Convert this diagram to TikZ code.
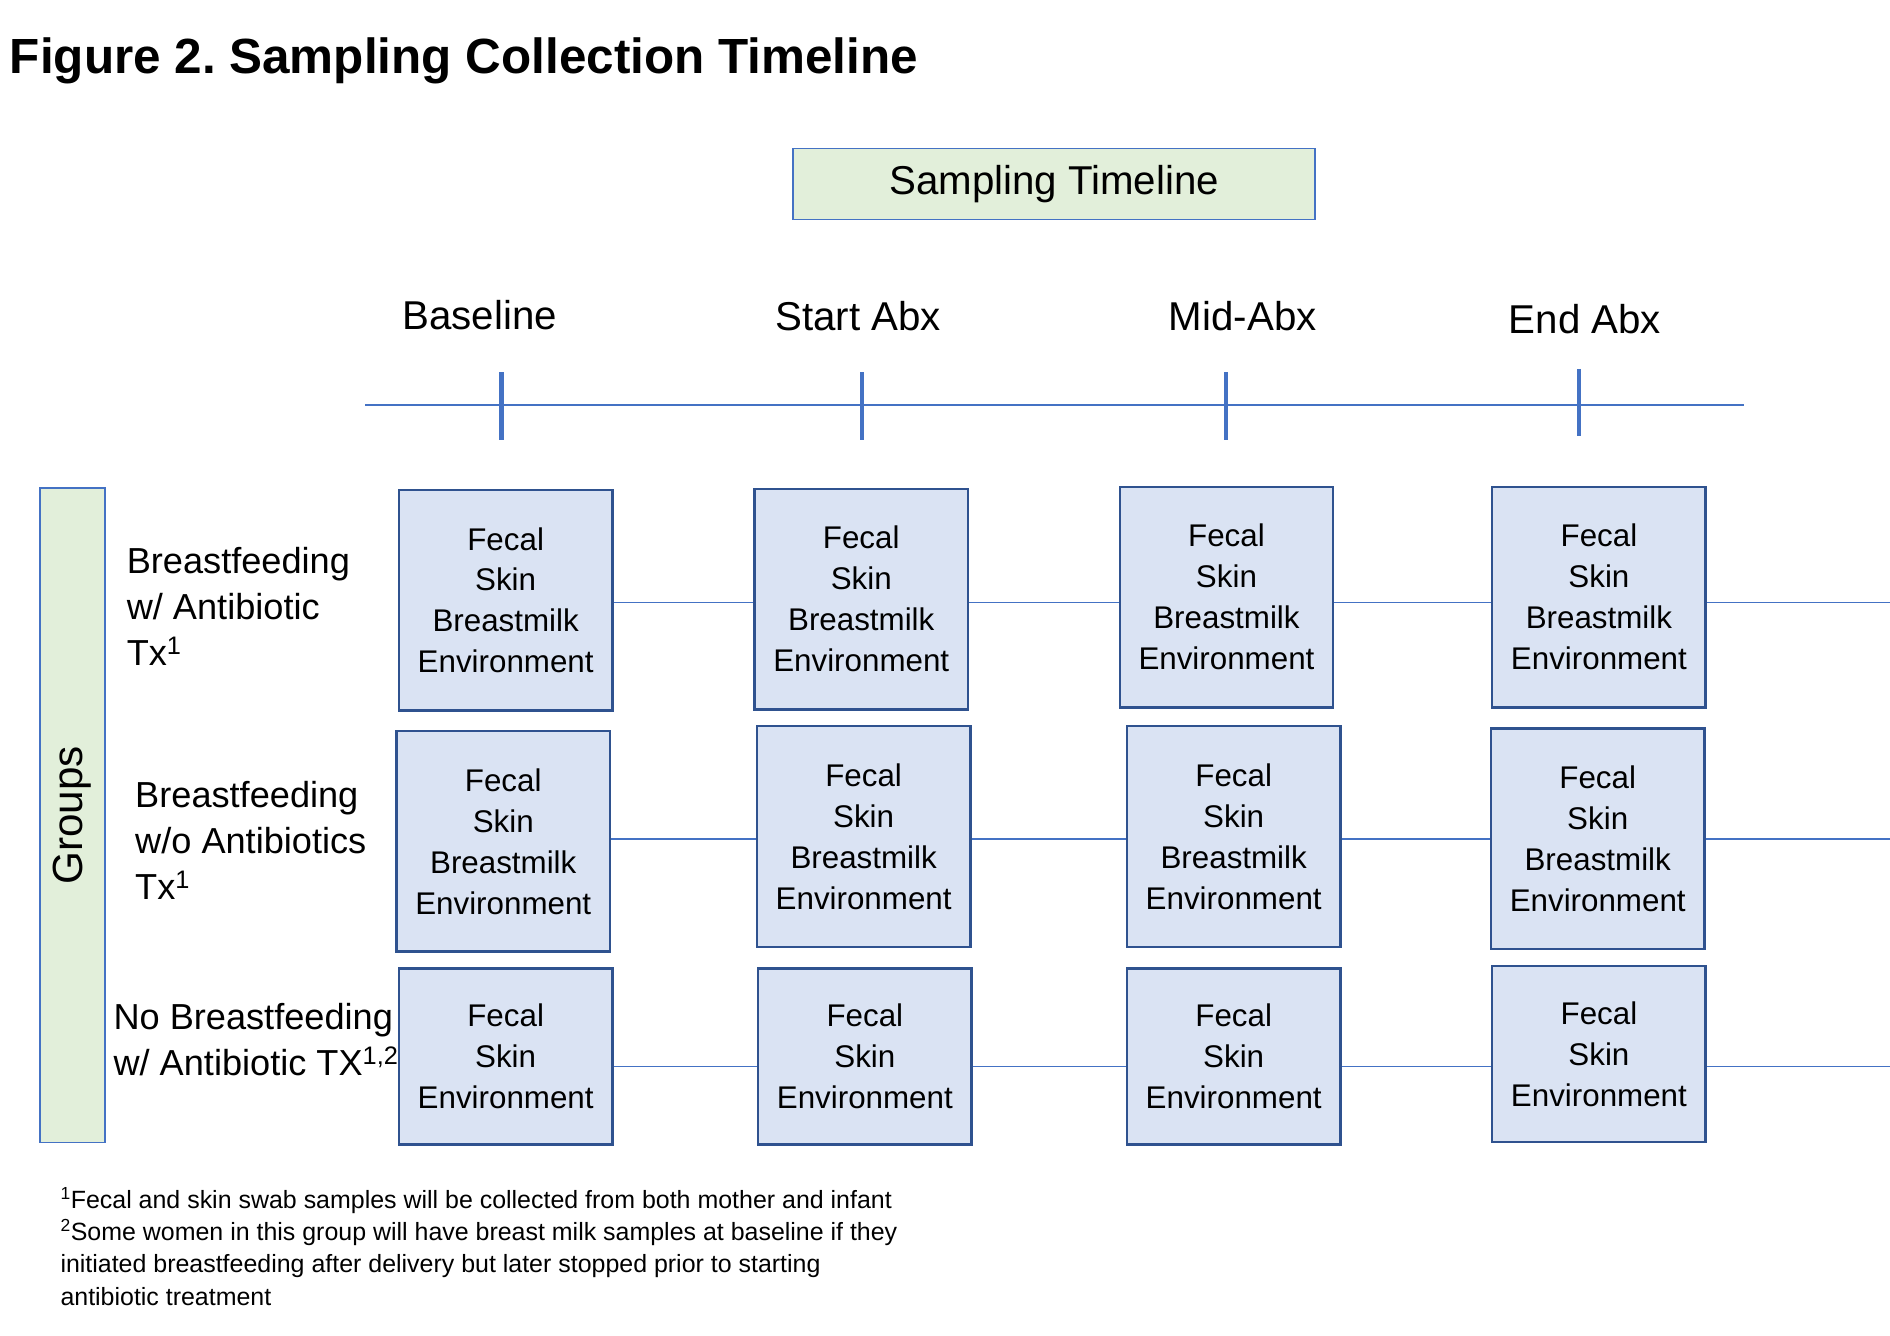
\documentclass[tikz,border=0pt]{standalone}
\usepackage{fontspec}
\setmainfont{Liberation Sans}
\usepackage{xcolor}
\usepackage{tikz}
\usetikzlibrary{positioning}
\frenchspacing

\definecolor{boxfill}{HTML}{DAE3F3}
\definecolor{boxline}{HTML}{2F528F}
\definecolor{linkblue}{HTML}{4472C4}
\definecolor{groupfill}{HTML}{E2EFDA}

\newcommand{\allsamples}{Fecal\\Skin\\Breastmilk\\Environment}
\newcommand{\nomilk}{Fecal\\Skin\\Environment}

\begin{document}
\begin{tikzpicture}[x=1pt, y=-1pt,
		sample/.style={draw=boxline, line width=2pt, fill=boxfill, minimum width=177pt, align=center, inner sep=0pt, font=\fontsize{26}{34}\selectfont},
		tallbox/.style={sample, minimum height=183pt},
		shortbox/.style={sample, minimum height=146pt},
		link/.style={draw=linkblue, line width=1.2pt},
		tickmark/.style={draw=linkblue, line width=3.5pt},
		header/.style={draw=linkblue, line width=1.2pt, fill=groupfill, inner sep=0pt},
		timelabel/.style={anchor=base, inner sep=0pt, font=\fontsize{33.4}{40}\selectfont},
		grouplabel/.style={anchor=north west, align=left, inner sep=0pt, font=\fontsize{30}{38}\selectfont}]
	\useasboundingbox (0,0) rectangle (1568,1108);
	% Title and header:
	\node[anchor=base west, inner sep=0pt, font=\fontsize{41}{48}\selectfont\bfseries] (title) at (8,61) {Figure 2. Sampling Collection Timeline};
	\node[header, minimum width=433pt, minimum height=59pt, font=\fontsize{33.4}{40}\selectfont] (timeline) at (874.5,152.5) {Sampling Timeline};
	% Time points:
	\node[timelabel] (baseline) at (398,273) {Baseline};
	\node[timelabel] (startabx) at (712,274) {Start Abx};
	\node[timelabel] (midabx) at (1031,274) {Mid-Abx};
	\node[timelabel] (endabx) at (1315,277) {End Abx};
	\coordinate (axis start) at (303,336);
	\coordinate (axis end) at (1447,336);
	\draw[link] (axis start) -- (axis end);
	\foreach \x/\top/\bot in {416/309/365, 715/309/365, 1017/309/365, 1310/306/362}
		\draw[tickmark] (\x,\top) -- (\x,\bot);
	% Groups:
	\node[header, rotate=90, minimum width=543pt, minimum height=54pt, font=\fontsize{35}{40}\selectfont] (groups) at (60,676.5) {Groups};
	\node[grouplabel] (grp1) at (105,454) {Breastfeeding\\w/ Antibiotic\\Tx\textsuperscript{1}};
	\node[grouplabel] (grp2) at (112,648) {Breastfeeding\\w/o Antibiotics\\Tx\textsuperscript{1}};
	\node[grouplabel] (grp3) at (94,832) {No Breastfeeding\\w/ Antibiotic TX\textsuperscript{1,2}};
	% Sample boxes:
	\node[tallbox] (bfa1) at (419.5,498) {\allsamples};
	\node[tallbox] (bfa2) at (714.5,497) {\allsamples};
	\node[tallbox] (bfa3) at (1017.5,495.5) {\allsamples};
	\node[tallbox] (bfa4) at (1326.5,495.5) {\allsamples};
	\node[tallbox] (bfn1) at (417.5,698) {\allsamples};
	\node[tallbox] (bfn2) at (716.5,694) {\allsamples};
	\node[tallbox] (bfn3) at (1023.5,694) {\allsamples};
	\node[tallbox] (bfn4) at (1325.5,696) {\allsamples};
	\node[shortbox] (nbf1) at (419.5,876.5) {\nomilk};
	\node[shortbox] (nbf2) at (717.5,876.5) {\nomilk};
	\node[shortbox] (nbf3) at (1023.5,876.5) {\nomilk};
	\node[shortbox] (nbf4) at (1326.5,874.5) {\nomilk};
	% Row lines:
	\coordinate (row1) at (0,500);
	\coordinate (row2) at (0,696);
	\coordinate (row3) at (0,885);
	\coordinate (edge) at (1568,0);
	\draw[link] (bfa1.east |- row1) -- (bfa2.west |- row1) (bfa2.east |- row1) -- (bfa3.west |- row1) (bfa3.east |- row1) -- (bfa4.west |- row1) (bfa4.east |- row1) -- (edge |- row1);
	\draw[link] (bfn1.east |- row2) -- (bfn2.west |- row2) (bfn2.east |- row2) -- (bfn3.west |- row2) (bfn3.east |- row2) -- (bfn4.west |- row2) (bfn4.east |- row2) -- (edge |- row2);
	\draw[link] (nbf1.east |- row3) -- (nbf2.west |- row3) (nbf2.east |- row3) -- (nbf3.west |- row3) (nbf3.east |- row3) -- (nbf4.west |- row3) (nbf4.east |- row3) -- (edge |- row3);
	% Footnotes:
	\node[anchor=north west, align=left, inner sep=0pt, font=\fontsize{20.7}{26.7}\selectfont] (notes) at (50,985) {\textsuperscript{1}Fecal and skin swab samples will be collected from both mother and infant\\\textsuperscript{2}Some women in this group will have breast milk samples at baseline if they\\initiated breastfeeding after delivery but later stopped prior to starting\\antibiotic treatment};
\end{tikzpicture}
\end{document}
